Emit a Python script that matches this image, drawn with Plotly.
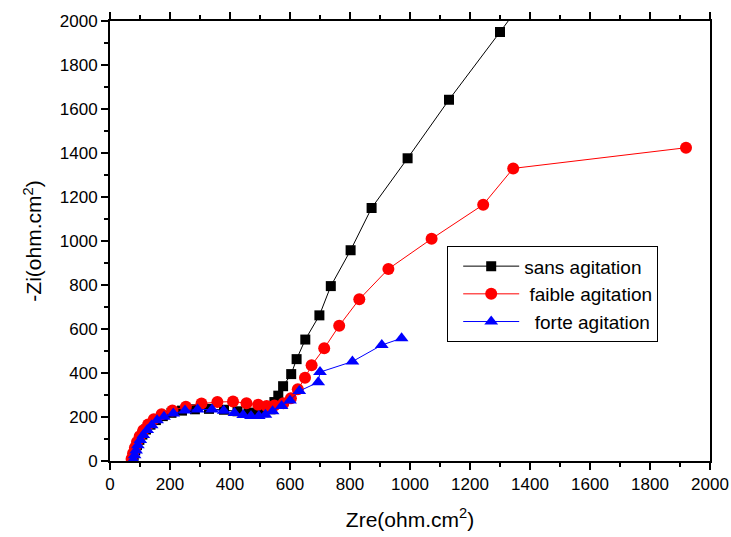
import plotly.graph_objects as go

# Nyquist data, Zre / -Zi in ohm.cm2
sans_zre = [75, 79, 84, 90, 98, 108, 120, 135, 153, 176, 205, 240, 283, 330, 380, 425,
            462, 490, 512, 535, 548, 561, 577, 604, 622, 651, 698, 736, 802, 872, 992,
            1130, 1300, 1475]
sans_zi = [5, 25, 48, 72, 96, 120, 143, 165, 186, 204, 219, 229, 235, 237, 233, 226,
           220, 218, 222, 235, 268, 297, 340, 395, 463, 552, 662, 795, 958, 1150, 1376,
           1642, 1950, 2270]

faible_zre = [72, 77, 83, 90, 99, 111, 127, 146, 172, 208, 253, 305, 358, 410, 455, 494,
              522, 548, 578, 603, 626, 650, 672, 714, 764, 831, 928, 1072, 1244, 1344, 1920]
faible_zi = [10, 35, 60, 86, 112, 140, 166, 190, 212, 230, 247, 261, 268, 270, 263, 256,
             250, 252, 262, 285, 326, 378, 435, 512, 615, 735, 873, 1010, 1165, 1330, 1424]

forte_zre = [78, 82, 87, 93, 101, 111, 124, 139, 157, 180, 211, 250, 292, 340, 379, 415,
             444, 470, 496, 518, 542, 572, 600, 631, 694, 700, 808, 906, 972]
forte_zi = [5, 26, 48, 72, 95, 118, 141, 163, 185, 201, 216, 229, 234, 234, 228, 218,
            209, 205, 205, 210, 226, 250, 275, 318, 358, 404, 452, 527, 558]

series_names = ["sans agitation", "\u00a0faible agitation", "\u00a0\u00a0forte agitation"]
x_ticks = list(range(0, 2001, 200))
y_ticks = list(range(0, 2001, 200))

FONT = "Liberation Sans, Arial, sans-serif"

fig = go.Figure()
fig.add_trace(go.Scatter(
    x=sans_zre, y=sans_zi, name=series_names[0], mode="lines+markers", legendgroup="a",
    line=dict(color="#000000", width=1),
    marker=dict(symbol="square", size=10, color="#000000"),
))
fig.add_trace(go.Scatter(
    x=faible_zre, y=faible_zi, name=series_names[1], mode="lines+markers", legendgroup="b",
    line=dict(color="#FF0000", width=1),
    marker=dict(symbol="circle", size=12, color="#FF0000"),
))
fig.add_trace(go.Scatter(
    x=forte_zre, y=forte_zi, name=series_names[2], mode="lines+markers", legendgroup="c",
    line=dict(color="#0000FF", width=1),
    marker=dict(symbol="triangle-up", size=12, color="#0000FF"),
))

axis_common = dict(
    showgrid=False, zeroline=False, showline=True, linecolor="black", linewidth=2,
    ticks="outside", ticklen=7, tickwidth=2, tickcolor="black", automargin=False,
    tickfont=dict(family=FONT, size=17, color="black"),
    minor=dict(dtick=100, ticks="outside", ticklen=4, tickwidth=2, tickcolor="black"),
)

fig.update_xaxes(
    range=[0, 2000], tickvals=x_ticks, mirror="ticks",
    title=dict(text="Zre(ohm.cm<sup>2</sup>)", font=dict(family=FONT, size=21, color="black"),
               standoff=19),
    **axis_common,
)
fig.update_yaxes(
    range=[0, 2000], tickvals=y_ticks, mirror=True,
    title=dict(text="-Zi(ohm.cm<sup>2</sup>)", font=dict(family=FONT, size=21, color="black"),
               standoff=12),
    **axis_common,
)

fig.update_layout(
    width=731, height=537,
    margin=dict(l=110, r=21, t=21, b=76),
    plot_bgcolor="white", paper_bgcolor="white",
    legend=dict(
        x=0.562, y=0.488, xanchor="left", yanchor="top",
        bordercolor="black", borderwidth=1, bgcolor="white",
        font=dict(family=FONT, size=19, color="black"),
        itemwidth=56, tracegroupgap=0, traceorder="grouped", indentation=10,
    ),
)

fig.write_html("out.html")
